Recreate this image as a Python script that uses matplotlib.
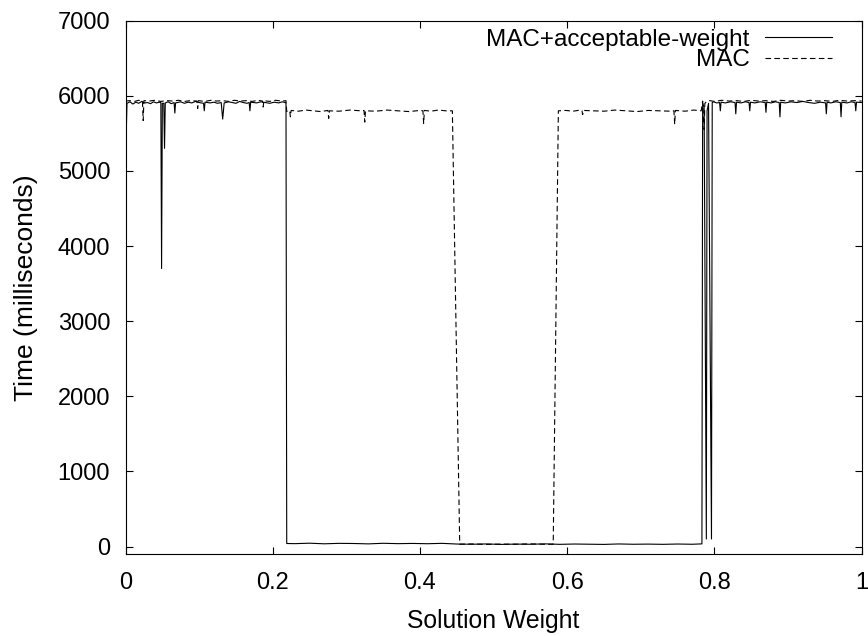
import matplotlib.pyplot as plt

plt.rcParams['font.family'] = ['Liberation Sans', 'DejaVu Sans']

# MAC+acceptable-weight (solid)
aw_x = [0.000, 0.002, 0.006, 0.010, 0.014, 0.018, 0.022, 0.026, 0.030, 0.034,
        0.038, 0.042, 0.046, 0.048, 0.049, 0.050, 0.052, 0.053, 0.054, 0.058,
        0.062, 0.066, 0.067, 0.068, 0.075, 0.080, 0.085, 0.090, 0.095, 0.100,
        0.106, 0.107, 0.108, 0.115, 0.120, 0.125, 0.130, 0.132, 0.134, 0.140,
        0.145, 0.150, 0.155, 0.160, 0.165, 0.168, 0.169, 0.170, 0.178, 0.184,
        0.190, 0.196, 0.202, 0.208, 0.213, 0.217, 0.218, 0.219,
        0.23, 0.25, 0.27, 0.29, 0.31, 0.33, 0.35, 0.37, 0.39, 0.41, 0.43, 0.45,
        0.47, 0.49, 0.51, 0.53, 0.55, 0.57, 0.59, 0.61, 0.63, 0.65, 0.67, 0.69,
        0.71, 0.73, 0.75, 0.77, 0.783,
        0.784, 0.786, 0.789, 0.790, 0.792, 0.796, 0.797, 0.799, 0.803,
        0.807, 0.808, 0.809, 0.815, 0.822, 0.828, 0.829, 0.830, 0.836, 0.842,
        0.847, 0.848, 0.849, 0.855, 0.862, 0.869, 0.870, 0.871, 0.877, 0.883,
        0.888, 0.889, 0.890, 0.896, 0.904, 0.912, 0.920, 0.928, 0.936, 0.944,
        0.951, 0.952, 0.953, 0.958, 0.965, 0.971, 0.972, 0.973, 0.980, 0.986,
        0.991, 0.992, 0.993, 1.000]
aw_y = [5100, 5900, 5920, 5890, 5915, 5900, 5925, 5905, 5910, 5895,
        5920, 5905, 5915, 5910, 3700, 5900, 5900, 5300, 5905, 5920,
        5895, 5910, 5770, 5905, 5920, 5900, 5915, 5905, 5925, 5910,
        5900, 5800, 5915, 5905, 5915, 5900, 5910, 5690, 5905, 5920,
        5910, 5900, 5925, 5910, 5900, 5910, 5800, 5915, 5905, 5920,
        5910, 5900, 5915, 5905, 5920, 5910, 5905, 40,
        38, 44, 36, 42, 40, 35, 43, 38, 41, 37, 42, 33,
        30, 34, 28, 32, 30, 35, 29, 33, 31, 28, 34, 30,
        32, 29, 33, 30, 35,
        5900, 5850, 100, 5800, 5900, 100, 5910, 5920, 5905,
        5910, 5800, 5915, 5905, 5920, 5910, 5760, 5915, 5905, 5920,
        5910, 5800, 5915, 5905, 5920, 5910, 5780, 5915, 5905, 5920,
        5910, 5720, 5915, 5905, 5920, 5910, 5925, 5910, 5900, 5915,
        5905, 5760, 5915, 5905, 5920, 5910, 5720, 5915, 5905, 5920,
        5910, 5800, 5915, 5910]

# MAC (dashed)
mac_x = [0.000, 0.006, 0.012, 0.018, 0.023, 0.024, 0.025, 0.032, 0.040, 0.048,
         0.056, 0.064, 0.072, 0.080, 0.088, 0.097, 0.098, 0.099, 0.108, 0.116,
         0.124, 0.132, 0.140, 0.148, 0.156, 0.164, 0.172, 0.180, 0.186, 0.187,
         0.188, 0.196, 0.204, 0.212, 0.218, 0.219, 0.222, 0.223, 0.224, 0.225,
         0.235, 0.245, 0.255, 0.265, 0.275, 0.276, 0.277, 0.290, 0.305, 0.320,
         0.324, 0.325, 0.326, 0.340, 0.355, 0.370, 0.385, 0.400, 0.404, 0.405,
         0.406, 0.415, 0.425, 0.435, 0.444,
         0.454, 0.47, 0.49, 0.51, 0.53, 0.55, 0.57, 0.581,
         0.588, 0.598, 0.608, 0.618, 0.620, 0.621, 0.622, 0.635, 0.650, 0.665,
         0.680, 0.695, 0.710, 0.725, 0.740, 0.745, 0.746, 0.747, 0.760, 0.772,
         0.782, 0.784, 0.786, 0.787, 0.790, 0.794, 0.800, 0.810, 0.820, 0.830,
         0.840, 0.850, 0.860, 0.870, 0.880, 0.890, 0.900, 0.910, 0.920, 0.930,
         0.940, 0.950, 0.960, 0.970, 0.980, 0.990, 1.000]
mac_y = [5930, 5935, 5925, 5940, 5930, 5670, 5935, 5930, 5940, 5925,
         5935, 5930, 5940, 5925, 5935, 5930, 5830, 5935, 5925, 5940,
         5930, 5935, 5925, 5940, 5930, 5935, 5925, 5940, 5930, 5850,
         5935, 5925, 5940, 5930, 5935, 5790, 5800, 5800, 5720, 5805,
         5795, 5810, 5800, 5790, 5805, 5700, 5800, 5795, 5810, 5800,
         5805, 5650, 5800, 5795, 5810, 5800, 5790, 5805, 5800, 5630,
         5805, 5795, 5810, 5800, 5800,
         30, 34, 28, 32, 30, 35, 29, 30,
         5800, 5805, 5795, 5810, 5800, 5750, 5805, 5800, 5795, 5810,
         5800, 5790, 5805, 5800, 5795, 5800, 5620, 5805, 5795, 5810,
         5800, 5930, 5550, 5900, 5930, 5935, 5925, 5940, 5930, 5935,
         5925, 5940, 5930, 5935, 5925, 5940, 5930, 5935, 5925, 5940,
         5930, 5935, 5925, 5940, 5930, 5935, 5930]

x_ticks = [0, 0.2, 0.4, 0.6, 0.8, 1.0]
x_tick_labels = ['0', '0.2', '0.4', '0.6', '0.8', '1']
y_ticks = [0, 1000, 2000, 3000, 4000, 5000, 6000, 7000]

fs = 17
fig = plt.figure(figsize=(8.68, 6.36), dpi=100)
ax = fig.add_axes([0.1446, 0.1289, 0.8481, 0.8386])

ax.plot(aw_x, aw_y, color='black', lw=0.8, label='MAC+acceptable-weight')
ax.plot(mac_x, mac_y, color='black', lw=0.8, dashes=(5, 3), label='MAC')

ax.set_xlim(0, 1)
ax.set_ylim(-100, 7000)
ax.set_xticks(x_ticks)
ax.set_xticklabels(x_tick_labels)
ax.set_yticks(y_ticks)
ax.tick_params(direction='in', length=5, width=0.8, top=True, right=True,
               labelsize=fs)
ax.tick_params(axis='x', pad=13)
ax.tick_params(axis='y', pad=11)
for s in ax.spines.values():
    s.set_linewidth(0.8)

ax.set_xlabel('Solution Weight', fontsize=17.8, labelpad=11)
ax.set_ylabel('Time (milliseconds)', fontsize=19, labelpad=14)

ax.legend(loc='upper right', bbox_to_anchor=(0.96, 0.985), frameon=False,
          markerfirst=False, fontsize=17.5, handlelength=2.75,
          handletextpad=0.65, labelspacing=-0.05, borderpad=0,
          borderaxespad=0)

plt.savefig('out.png')
